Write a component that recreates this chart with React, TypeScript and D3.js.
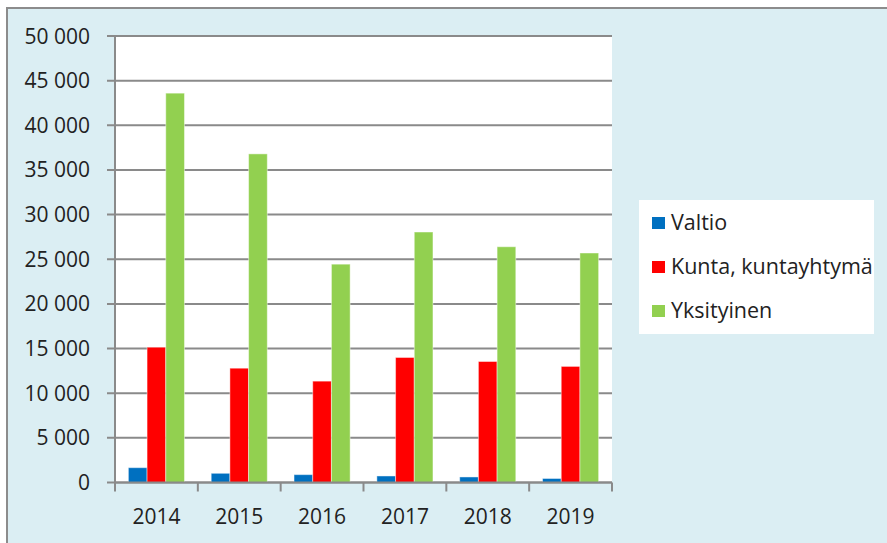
import React from "react";
import * as d3 from "d3";

const years = ["2014", "2015", "2016", "2017", "2018", "2019"];
const seriesNames = ["Valtio", "Kunta, kuntayhtymä", "Yksityinen"];
const valtio = [1660, 1030, 880, 730, 620, 450];
const kunta = [15150, 12800, 11350, 14000, 13550, 13000];
const yksityinen = [43600, 36800, 24450, 28050, 26400, 25700];
const yTicks = [0, 5000, 10000, 15000, 20000, 25000, 30000, 35000, 40000, 45000, 50000];
const colors = ["#0070C0", "#FF0000", "#92D050"];

const W = 887;
const H = 543;
const plot = { left: 115, right: 612, top: 36, bottom: 482.5 };
const FONT = "'Open Sans', 'DejaVu Sans', sans-serif";

export default function App() {
  const allSeries = [valtio, kunta, yksityinen];
  const y = d3.scaleLinear().domain([0, 50000]).range([plot.bottom, plot.top]);
  const x = d3.scaleBand<string>().domain(years).range([plot.left, plot.right]).paddingInner(0).paddingOuter(0);
  const xs = d3
    .scaleBand<string>()
    .domain(seriesNames)
    .range([0, x.bandwidth()])
    .paddingInner(0)
    .paddingOuter(0.715);
  const fmt = d3
    .formatLocale({ decimal: ",", thousands: " ", grouping: [3], currency: ["", ""] })
    .format(",");
  const boundaries = years.map((yr) => x(yr) as number).concat([plot.right]);

  return (
    <div style={{ position: "fixed", left: 0, top: 0 }}>
      <svg width={W} height={H} style={{ display: "block" }} fontFamily={FONT}>
        <rect x={0} y={0} width={W} height={H} fill="#ffffff" />
        <rect x={7} y={8} width={W} height={H} fill="#DBEEF3" stroke="#8C8C8C" strokeWidth={2} />
        <rect
          x={plot.left}
          y={plot.top}
          width={plot.right - plot.left}
          height={plot.bottom - plot.top}
          fill="#ffffff"
        />
        {yTicks.map((t) => (
          <g key={t}>
            <line x1={107} x2={plot.right} y1={y(t)} y2={y(t)} stroke="#8A8A8A" strokeWidth={2} />
            <text x={90} y={y(t) + 7.5} textAnchor="end" fontSize={21} fill="#222222">
              {fmt(t)}
            </text>
          </g>
        ))}
        <line x1={plot.left} x2={plot.left} y1={plot.top} y2={plot.bottom} stroke="#8A8A8A" strokeWidth={2} />
        {allSeries.map((vals, si) =>
          vals.map((v, i) => (
            <rect
              key={si + "-" + i}
              x={(x(years[i]) as number) + (xs(seriesNames[si]) as number)}
              y={y(v)}
              width={xs.bandwidth()}
              height={y(0) - y(v)}
              fill={colors[si]}
              stroke="rgba(255,255,255,0.45)"
              strokeWidth={1}
            />
          ))
        )}
        <line x1={plot.left} x2={plot.right} y1={y(0)} y2={y(0)} stroke="#8A8A8A" strokeWidth={2} />
        {boundaries.map((bx, i) => (
          <line key={i} x1={bx} x2={bx} y1={y(0)} y2={491.5} stroke="#8A8A8A" strokeWidth={2} />
        ))}
        {years.map((yr) => (
          <text
            key={yr}
            x={(x(yr) as number) + x.bandwidth() / 2}
            y={524}
            textAnchor="middle"
            fontSize={21}
            fill="#222222"
          >
            {yr}
          </text>
        ))}
        <rect x={639} y={200} width={235} height={134} fill="#ffffff" />
        {seriesNames.map((name, i) => (
          <g key={name}>
            <rect x={652} y={217 + i * 44} width={13} height={12} fill={colors[i]} />
            <text x={671} y={230 + i * 44} fontSize={21.5} fill="#222222">
              {name}
            </text>
          </g>
        ))}
      </svg>
    </div>
  );
}
